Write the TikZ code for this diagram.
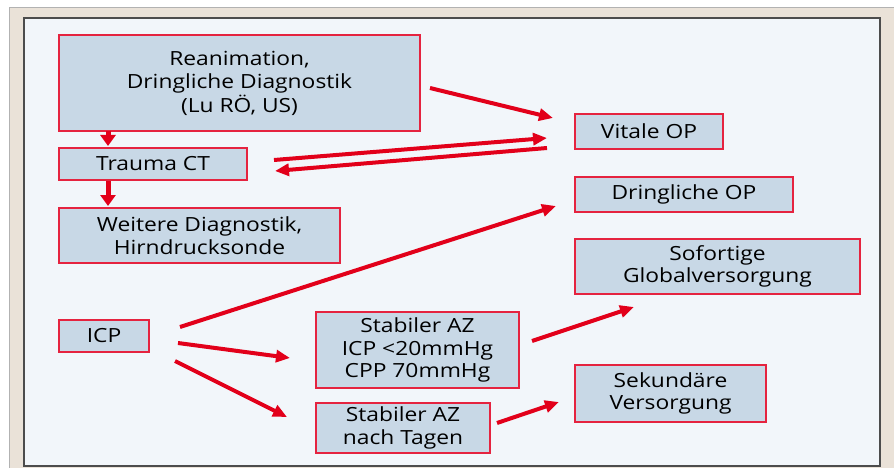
\documentclass[tikz,border=0pt]{standalone}
\usepackage{fontspec}
\setmainfont{Open Sans}[FakeStretch=1.17]
\usetikzlibrary{arrows.meta,calc}
\definecolor{boxfill}{HTML}{C8D8E6}
\definecolor{boxline}{HTML}{E5233F}
\definecolor{arrred}{HTML}{E2001A}
\definecolor{panel}{HTML}{F2F6FA}
\definecolor{beige}{HTML}{EAE2D8}
\tikzset{
  box/.style={draw=boxline, line width=1.3pt, fill=boxfill, align=center,
    inner sep=0pt, font=\fontsize{19.5}{22.5}\selectfont, text=black},
  arr/.style={draw=arrred, line width=4pt, -{Triangle[length=14pt,width=12pt]}},
  darr/.style={draw=arrred, line width=5pt, -{Triangle[length=11pt,width=15pt]}},
}
\begin{document}
\begin{tikzpicture}[x=1pt,y=-1pt]
\useasboundingbox (0,0) rectangle (894,468);
\fill[white] (0,0) rectangle (894,468);
\draw[fill=beige, draw=gray!60, line width=1pt] (9,8) rectangle (900,480);
\draw[fill=panel, draw=black!70, line width=1.2pt] (24,18) rectangle (880,466);

\node[box, minimum width=361pt, minimum height=96pt, font=\fontsize{19.5}{23.5}\selectfont] (rean) at (239.5,83) {Reanimation,\\Dringliche Diagnostik\\(Lu RÖ, US)};
\node[box, minimum width=188pt, minimum height=32pt] (trauma) at (153,164) {Trauma CT};
\node[box, minimum width=281pt, minimum height=55pt] (weit) at (199.5,235.5) {Weitere Diagnostik,\\Hirndrucksonde};
\node[box, minimum width=90pt, minimum height=32pt] (icp) at (104,336) {ICP};
\node[box, minimum width=203pt, minimum height=76pt] (stab1) at (417.5,350) {Stabiler AZ\\ICP <20mmHg\\CPP 70mmHg};
\node[box, minimum width=174pt, minimum height=50pt] (stab2) at (403,428) {Stabiler AZ\\nach Tagen};
\node[box, minimum width=148pt, minimum height=35pt] (vital) at (649,131.5) {Vitale OP};
\node[box, minimum width=218pt, minimum height=35pt] (dop) at (684,194.5) {Dringliche OP};
\node[box, minimum width=285pt, minimum height=55pt] (sof) at (717.5,266.5) {Sofortige\\Globalversorgung};
\node[box, minimum width=191pt, minimum height=57pt] (sek) at (670.5,393.5) {Sekundäre\\Versorgung};

% arrow end points
\coordinate (r1) at (108,131);
\coordinate (t1) at (108,146);
\coordinate (t2) at (108,181);
\coordinate (w1) at (108,206);
\coordinate (re) at (430,88);
\coordinate (v1) at (553,118);
\coordinate (te) at (274,160);
\coordinate (v2) at (547,138);
\coordinate (v3) at (547,148);
\coordinate (te2) at (275,171);
\coordinate (i1) at (180,327);
\coordinate (d1) at (556,206);
\coordinate (i2) at (178,343);
\coordinate (s1) at (290,358);
\coordinate (i3) at (175,361);
\coordinate (s2) at (287,417);
\coordinate (s1e) at (532,341);
\coordinate (so) at (634,307);
\coordinate (s2e) at (497,423);
\coordinate (se) at (559,402);

\draw[darr] (r1) -- (t1);
\draw[darr] (t2) -- (w1);
\draw[arr] (re) -- (v1);
\draw[arr] (te) -- (v2);
\draw[arr] (v3) -- (te2);
\draw[arr] (i1) -- (d1);
\draw[arr] (i2) -- (s1);
\draw[arr] (i3) -- (s2);
\draw[arr] (s1e) -- (so);
\draw[arr] (s2e) -- (se);
\end{tikzpicture}
\end{document}
